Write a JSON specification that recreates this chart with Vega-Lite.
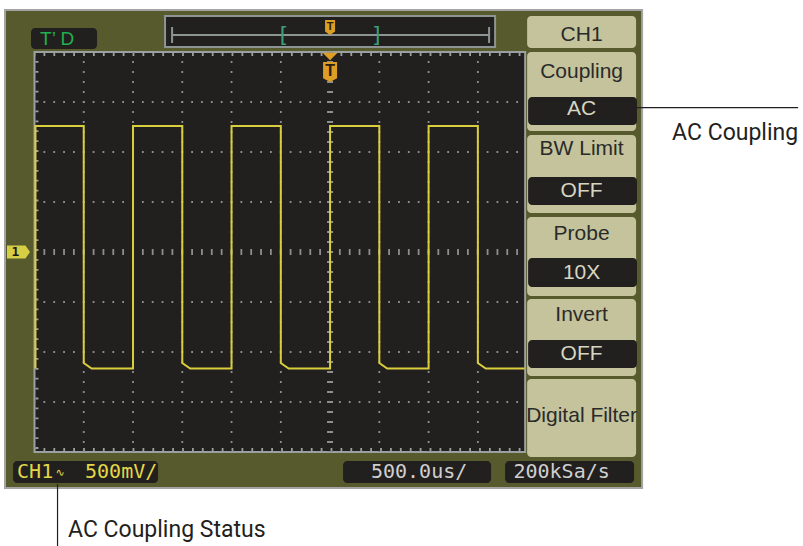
{
  "$schema": "https://vega.github.io/schema/vega-lite/v6.json",
  "width": 803,
  "height": 546,
  "padding": 0,
  "autosize": {"type": "none"},
  "background": "white",
  "config": {"view": {"stroke": null}},
  "datasets": {
    "frame": [{"x": -6.598, "x2": 6.334, "y": 4.84, "y2": -4.72}],
    "topbar": [{"x": -3.35, "x2": 3.35, "y": 4.72, "y2": 4.10}],
    "tdbox": [{"x": -6.07, "x2": -4.73, "y": 4.48, "y2": 4.06}],
    "tdtext": [{"x": -5.887, "y": 4.26, "label": "T’ D"}],
    "screen": [{"x": -6, "x2": 3.96, "y": 4, "y2": -4}],
    "vgrid": [
      {"x": -5, "y": 4, "y2": -4}, {"x": -4, "y": 4, "y2": -4}, {"x": -3, "y": 4, "y2": -4},
      {"x": -2, "y": 4, "y2": -4}, {"x": -1, "y": 4, "y2": -4}, {"x": 1, "y": 4, "y2": -4},
      {"x": 2, "y": 4, "y2": -4}, {"x": 3, "y": 4, "y2": -4}
    ],
    "hgrid": [
      {"y": -3, "x": -6, "x2": 3.96}, {"y": -2, "x": -6, "x2": 3.96}, {"y": -1, "x": -6, "x2": 3.96},
      {"y": 1, "x": -6, "x2": 3.96}, {"y": 2, "x": -6, "x2": 3.96}, {"y": 3, "x": -6, "x2": 3.96}
    ],
    "cv": [{"x": 0, "y": 4, "y2": -4}],
    "ch": [{"y": 0, "x": -6, "x2": 3.96}],
    "bticks": [
      {"x": -6, "x2": 3.96, "y": 3.95, "y2": 3.95},
      {"x": -6, "x2": 3.96, "y": -3.95, "y2": -3.95},
      {"x": -5.95, "x2": -5.95, "y": 4, "y2": -4}
    ],
    "trace": [
      {"x": -5.98, "y": -2.33}, {"x": -5.98, "y": 2.52}, {"x": -5, "y": 2.52}, {"x": -5, "y": -2.22},
      {"x": -4.84, "y": -2.33}, {"x": -4, "y": -2.33}, {"x": -4, "y": 2.52}, {"x": -3, "y": 2.52},
      {"x": -3, "y": -2.22}, {"x": -2.84, "y": -2.33}, {"x": -2, "y": -2.33}, {"x": -2, "y": 2.52},
      {"x": -1, "y": 2.52}, {"x": -1, "y": -2.22}, {"x": -0.84, "y": -2.33}, {"x": 0, "y": -2.33},
      {"x": 0, "y": 2.52}, {"x": 1, "y": 2.52}, {"x": 1, "y": -2.22}, {"x": 1.16, "y": -2.33},
      {"x": 2, "y": -2.33}, {"x": 2, "y": 2.52}, {"x": 3, "y": 2.52}, {"x": 3, "y": -2.22},
      {"x": 3.16, "y": -2.33}, {"x": 3.95, "y": -2.33}
    ],
    "trigTri": [{"x": 0, "y": 3.91}],
    "trigBig": [{"x": 0, "y": 3.6, "label": "T"}],
    "trigSmall": [{"x": 0, "y": 4.49, "label": "T"}],
    "tbl": [
      {"x": -3.207, "x2": 3.228, "y": 4.34, "y2": 4.34},
      {"x": -3.207, "x2": -3.207, "y": 4.5, "y2": 4.18},
      {"x": 3.228, "x2": 3.228, "y": 4.5, "y2": 4.18}
    ],
    "brackets": [{"x": -0.954, "y": 4.34, "label": "["}, {"x": 0.954, "y": 4.34, "label": "]"}],
    "chmark": [{"x": -6.324, "y": 0.0, "label": "1"}],
    "buttons": [
      {"x": 4.0, "x2": 6.212, "y": 4.72, "y2": 4.08, "ly": 4.34, "label": "CH1"},
      {"x": 4.0, "x2": 6.212, "y": 4.0, "y2": 2.42, "ly": 3.61, "label": "Coupling"},
      {"x": 4.0, "x2": 6.212, "y": 2.34, "y2": 0.78, "ly": 2.07, "label": "BW Limit"},
      {"x": 4.0, "x2": 6.212, "y": 0.70, "y2": -0.88, "ly": 0.36, "label": "Probe"},
      {"x": 4.0, "x2": 6.212, "y": -0.94, "y2": -2.48, "ly": -1.25, "label": "Invert"},
      {"x": 4.0, "x2": 6.212, "y": -2.54, "y2": -4.10, "ly": -3.28, "label": "Digital Filter"}
    ],
    "values": [
      {"x": 4.02, "x2": 6.23, "y": 3.10, "y2": 2.54, "ly": 2.87, "label": "AC"},
      {"x": 4.02, "x2": 6.23, "y": 1.50, "y2": 0.94, "ly": 1.23, "label": "OFF"},
      {"x": 4.02, "x2": 6.23, "y": -0.12, "y2": -0.70, "ly": -0.41, "label": "10X"},
      {"x": 4.02, "x2": 6.23, "y": -1.76, "y2": -2.32, "ly": -2.04, "label": "OFF"}
    ],
    "status": [
      {"x": -6.435, "x2": -3.492, "y": -4.18, "y2": -4.62},
      {"x": 0.264, "x2": 3.268, "y": -4.18, "y2": -4.62},
      {"x": 3.553, "x2": 6.171, "y": -4.18, "y2": -4.62}
    ],
    "statusYellow": [
      {"x": -6.354, "y": -4.4, "label": "CH1"},
      {"x": -4.974, "y": -4.4, "label": "500mV/"}
    ],
    "acSym": [{"x": -5.481, "y": -4.42, "label": "∿"}],
    "statusGray": [
      {"x": 1.807, "y": -4.4, "label": "500.0us/"},
      {"x": 4.70, "y": -4.4, "label": "200kSa/s"}
    ],
    "leaders": [
      {"x": 6.212, "x2": 9.50, "y": 2.886, "y2": 2.886},
      {"x": -5.532, "x2": -5.532, "y": -4.64, "y2": -5.88}
    ],
    "annots": [
      {"x": 6.943, "y": 2.24, "label": "AC Coupling"},
      {"x": -5.319, "y": -5.70, "label": "AC Coupling Status"}
    ]
  },
  "encoding": {
    "x": {"field": "x", "type": "quantitative", "scale": {"domain": [-6.7, 9.6], "nice": false, "zero": false}, "axis": null},
    "y": {"field": "y", "type": "quantitative", "scale": {"domain": [-5.88, 5.04], "nice": false, "zero": false}, "axis": null}
  },
  "layer": [
    {"data": {"name": "frame"}, "mark": {"type": "rect", "fill": "#575a2c", "stroke": "#a4a4a4", "strokeWidth": 2},
     "encoding": {"x2": {"field": "x2"}, "y2": {"field": "y2"}}},
    {"data": {"name": "topbar"}, "mark": {"type": "rect", "fill": "#221f1f", "stroke": "#8e9494", "strokeWidth": 2},
     "encoding": {"x2": {"field": "x2"}, "y2": {"field": "y2"}}},
    {"data": {"name": "tdbox"}, "mark": {"type": "rect", "fill": "#221f1f", "cornerRadius": 4},
     "encoding": {"x2": {"field": "x2"}, "y2": {"field": "y2"}}},
    {"data": {"name": "tdtext"}, "mark": {"type": "text", "align": "left", "baseline": "middle", "font": "Liberation Sans", "fontSize": 19, "color": "#22b04e"},
     "encoding": {"text": {"field": "label"}}},
    {"data": {"name": "screen"}, "mark": {"type": "rect", "fill": "#221f1f", "stroke": "#9ba0a0", "strokeWidth": 2},
     "encoding": {"x2": {"field": "x2"}, "y2": {"field": "y2"}}},
    {"data": {"name": "vgrid"}, "mark": {"type": "rule", "color": "#8e8e8e", "strokeWidth": 1.8, "strokeDash": [1.8, 8.2], "strokeDashOffset": 0.9},
     "encoding": {"y2": {"field": "y2"}}},
    {"data": {"name": "hgrid"}, "mark": {"type": "rule", "color": "#8e8e8e", "strokeWidth": 1.8, "strokeDash": [1.8, 8.05], "strokeDashOffset": 0.9},
     "encoding": {"x2": {"field": "x2"}}},
    {"data": {"name": "cv"}, "mark": {"type": "rule", "color": "#8e8e8e", "strokeWidth": 6, "strokeDash": [1.8, 8.2], "strokeDashOffset": 0.9},
     "encoding": {"y2": {"field": "y2"}}},
    {"data": {"name": "ch"}, "mark": {"type": "rule", "color": "#8e8e8e", "strokeWidth": 6, "strokeDash": [1.8, 8.05], "strokeDashOffset": 0.9},
     "encoding": {"x2": {"field": "x2"}}},
    {"data": {"name": "bticks"}, "mark": {"type": "rule", "color": "#9ba0a0", "strokeWidth": 3, "strokeDash": [1.8, 8.1], "strokeDashOffset": 0.9},
     "encoding": {"x2": {"field": "x2"}, "y2": {"field": "y2"}}},
    {"data": {"name": "trace"}, "mark": {"type": "line", "color": "#d9cf3c", "strokeWidth": 2, "strokeJoin": "miter"},
     "encoding": {"order": {"value": null}}},
    {"data": {"name": "trigTri"}, "mark": {"type": "point", "filled": true, "opacity": 1, "color": "#dc9e24", "size": 225, "shape": "M-1,-0.5L1,-0.5L0,0.5Z"},
     "encoding": {}},
    {"data": {"name": "trigBig"}, "mark": {"type": "point", "filled": true, "opacity": 1, "color": "#dc9e24", "size": 196, "shape": "M-1,-1.43L1,-1.43L1,0.9L0,1.43L-1,0.9Z"},
     "encoding": {}},
    {"data": {"name": "trigBig"}, "mark": {"type": "text", "align": "center", "baseline": "middle", "font": "Liberation Sans", "fontWeight": "bold", "fontSize": 16, "color": "#2a2010", "dy": -1},
     "encoding": {"text": {"field": "label"}}},
    {"data": {"name": "tbl"}, "mark": {"type": "rule", "color": "#8c9494", "strokeWidth": 2},
     "encoding": {"x2": {"field": "x2"}, "y2": {"field": "y2"}}},
    {"data": {"name": "brackets"}, "mark": {"type": "text", "align": "center", "baseline": "middle", "font": "DejaVu Sans Mono", "fontSize": 22, "color": "#3c9f78"},
     "encoding": {"text": {"field": "label"}}},
    {"data": {"name": "trigSmall"}, "mark": {"type": "point", "filled": true, "opacity": 1, "color": "#dc9e24", "size": 100, "shape": "M-1,-1.5L1,-1.5L1,0.8L0,1.5L-1,0.8Z"},
     "encoding": {}},
    {"data": {"name": "trigSmall"}, "mark": {"type": "text", "align": "center", "baseline": "middle", "font": "Liberation Sans", "fontWeight": "bold", "fontSize": 11, "color": "#2a2010", "dy": -1},
     "encoding": {"text": {"field": "label"}}},
    {"data": {"name": "chmark"}, "mark": {"type": "point", "filled": true, "opacity": 1, "color": "#d6cf46", "size": 529, "shape": "M-1,-0.565L0.6,-0.565L1,0L0.6,0.565L-1,0.565Z"},
     "encoding": {}},
    {"data": {"name": "chmark"}, "mark": {"type": "text", "align": "center", "baseline": "middle", "font": "DejaVu Sans Mono", "fontWeight": "bold", "fontSize": 13, "color": "#1a1a1a", "dx": -3},
     "encoding": {"text": {"field": "label"}}},
    {"data": {"name": "buttons"}, "mark": {"type": "rect", "fill": "#c4c39c", "cornerRadius": 4},
     "encoding": {"x2": {"field": "x2"}, "y2": {"field": "y2"}}},
    {"data": {"name": "buttons"}, "mark": {"type": "text", "align": "center", "baseline": "middle", "font": "Liberation Sans", "fontSize": 21, "color": "#2a2a2a"},
     "encoding": {"x": {"datum": 5.106}, "y": {"field": "ly", "type": "quantitative"}, "text": {"field": "label"}}},
    {"data": {"name": "values"}, "mark": {"type": "rect", "fill": "#221f1f", "cornerRadius": 4},
     "encoding": {"x2": {"field": "x2"}, "y2": {"field": "y2"}}},
    {"data": {"name": "values"}, "mark": {"type": "text", "align": "center", "baseline": "middle", "font": "Liberation Sans", "fontSize": 21, "color": "#d6d6c0"},
     "encoding": {"x": {"datum": 5.106}, "y": {"field": "ly", "type": "quantitative"}, "text": {"field": "label"}}},
    {"data": {"name": "status"}, "mark": {"type": "rect", "fill": "#221f1f", "cornerRadius": 4},
     "encoding": {"x2": {"field": "x2"}, "y2": {"field": "y2"}}},
    {"data": {"name": "statusYellow"}, "mark": {"type": "text", "align": "left", "baseline": "middle", "font": "DejaVu Sans Mono", "fontSize": 20, "color": "#e2d847"},
     "encoding": {"text": {"field": "label"}}},
    {"data": {"name": "acSym"}, "mark": {"type": "text", "align": "center", "baseline": "middle", "font": "DejaVu Sans", "fontSize": 11, "color": "#e2d847"},
     "encoding": {"text": {"field": "label"}}},
    {"data": {"name": "statusGray"}, "mark": {"type": "text", "align": "center", "baseline": "middle", "font": "DejaVu Sans Mono", "fontSize": 20, "color": "#cfcfcf"},
     "encoding": {"text": {"field": "label"}}},
    {"data": {"name": "leaders"}, "mark": {"type": "rule", "color": "#231f20", "strokeWidth": 1.2},
     "encoding": {"x2": {"field": "x2"}, "y2": {"field": "y2"}}},
    {"data": {"name": "annots"}, "mark": {"type": "text", "align": "left", "baseline": "alphabetic", "font": "Roboto", "fontSize": 23, "color": "#231f20"},
     "encoding": {"text": {"field": "label"}}}
  ]
}
